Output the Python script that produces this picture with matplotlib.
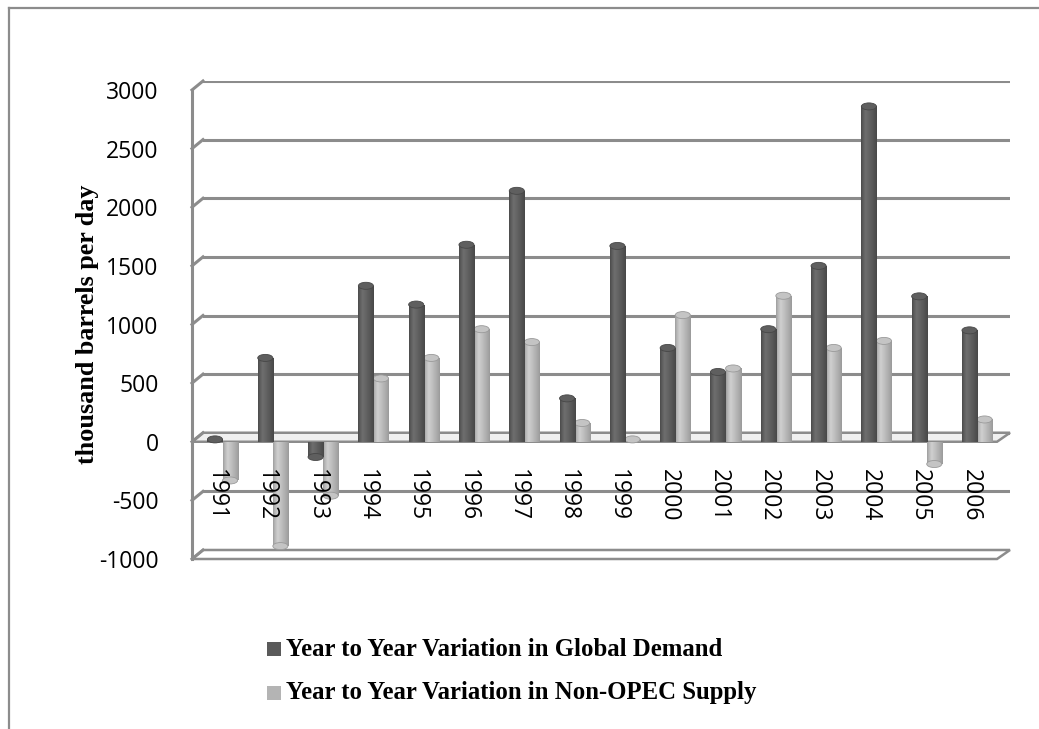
import matplotlib
matplotlib.use("Agg")
import matplotlib.pyplot as plt
import numpy as np
from matplotlib.lines import Line2D
from matplotlib.patches import Polygon, Ellipse, Rectangle
from matplotlib.transforms import offset_copy

years = ["1991", "1992", "1993", "1994", "1995", "1996", "1997", "1998",
         "1999", "2000", "2001", "2002", "2003", "2004", "2005", "2006"]
demand = [20, 715, -130, 1330, 1170, 1680, 2140, 370,
          1670, 800, 595, 960, 1500, 2860, 1240, 950]
supply = [-330, -890, -460, 540, 715, 960, 850, 160,
          20, 1080, 625, 1245, 800, 860, -190, 190]
series_names = ["Year to Year Variation in Global Demand",
                "Year to Year Variation in Non-OPEC Supply"]
yticks = [-1000, -500, 0, 500, 1000, 1500, 2000, 2500, 3000]

W, H = 1039, 729
fig = plt.figure(figsize=(W / 100, H / 100), dpi=100)
fig.patch.set_facecolor("white")

def rect(x0, y0, x1, y1):
    return [x0 / W, 1 - y1 / H, (x1 - x0) / W, (y1 - y0) / H]

GRID = "#8c8c8c"
ymin, ymax = -1000, 3000
n = len(years)
xmin, xmax = -0.457, n - 0.453

# back wall axes (gridlines, walls, floor)
axb = fig.add_axes(rect(203, 81, 1010, 550))
axb.set_zorder(0)
axb.set_xlim(xmin, xmax)
axb.set_ylim(ymin, ymax)
axb.axis("off")
for v in yticks:
    axb.axhline(v, color=GRID, lw=2.2, zorder=1)

# front axes (bars)
ax = fig.add_axes(rect(192, 90, 997, 559))
ax.set_zorder(1)
ax.set_xlim(xmin, xmax)
ax.set_ylim(ymin, ymax)
ax.patch.set_alpha(0)
for s in ax.spines.values():
    s.set_visible(False)
ax.set_xticks([])
ax.set_yticks(yticks)
ax.set_yticklabels([str(v) for v in yticks], fontsize=16.5, family="Open Sans")
ax.tick_params(axis="y", length=0, pad=24)

fig_inv = fig.transFigure.inverted()
def fpt(a, x, y):
    return fig_inv.transform(a.transData.transform((x, y)))

# left wall: vertical line and diagonals
p0 = fpt(ax, xmin, ymin); p1 = fpt(ax, xmin, ymax)
axb.add_line(Line2D([p0[0], p1[0]], [p0[1], p1[1]], color=GRID, lw=2.2,
                    transform=fig.transFigure, clip_on=False, zorder=2))
for v in yticks:
    a = fpt(ax, xmin, v); b = fpt(axb, xmin, v)
    axb.add_line(Line2D([a[0], b[0]], [a[1], b[1]], color=GRID, lw=2.2,
                        transform=fig.transFigure, clip_on=False, zorder=2))

# floor planes at 0 and -1000
for v, fc in [(0, "#f0f0f0"), (ymin, "white")]:
    pts = [fpt(ax, xmin, v), fpt(ax, xmax, v), fpt(axb, xmax, v), fpt(axb, xmin, v)]
    axb.add_patch(Polygon(pts, closed=True, facecolor=fc, edgecolor=GRID,
                          lw=1.8, zorder=1.5, transform=fig.transFigure,
                          clip_on=False))

# bars
x = np.arange(n)
bw = 0.3
bars_s = ax.bar(x + 0.3, supply, width=bw, color="#b4b4b4", zorder=3, lw=0)
bars_d = ax.bar(x, demand, width=bw, color="#5a5a5a", zorder=4, lw=0)

cap_h = 60  # ellipse height in data units (~7 px)

def shade(bars, lo, hi, cap, z):
    grad = np.concatenate([np.linspace(0, 1, 30) ** 0.7, np.linspace(1, 0, 70) ** 0.9])
    cols = np.array([matplotlib.colors.to_rgb(lo), matplotlib.colors.to_rgb(hi)])
    img = (cols[0] + (cols[1] - cols[0]) * grad[:, None])[None, :, :]
    for b in bars:
        x0, y0 = b.get_x(), b.get_y()
        w, h = b.get_width(), b.get_height()
        if h == 0:
            continue
        im = ax.imshow(img, extent=[x0, x0 + w, min(y0, y0 + h), max(y0, y0 + h)],
                       aspect="auto", zorder=z, interpolation="bilinear")
        im.set_clip_path(b)
        ax.add_patch(Ellipse((x0 + w / 2, y0 + h), w, cap_h, facecolor=cap,
                             edgecolor=lo, lw=0.6, zorder=z + 0.05))

shade(bars_s, "#9a9a9a", "#cfcfcf", "#c4c4c4", 3.1)
shade(bars_d, "#474747", "#6e6e6e", "#5f5f5f", 4.1)
ax.set_xlim(xmin, xmax)
ax.set_ylim(ymin, ymax)

# category labels
tr = offset_copy(ax.transData, fig=fig, x=0, y=-27, units="dots")
for i, yr in enumerate(years):
    ax.text(i + 0.02, 0, yr, rotation=-90, ha="center", va="top",
            fontsize=16.5, family="Open Sans", transform=tr, zorder=6)

# y label
fig.text(88 / W, 1 - 324 / H, "thousand barrels per day", rotation=90,
         ha="center", va="center", fontsize=18.8, fontweight="bold",
         family="Liberation Serif")

# legend
cols = ["#5a5a5a", "#b4b4b4"]
for k, (name, c) in enumerate(zip(series_names, cols)):
    yc = 649 + 44 * k
    fig.add_artist(Rectangle((267 / W, 1 - (yc + 7) / H), 14 / W, 14 / H,
                             facecolor=c, edgecolor="none",
                             transform=fig.transFigure))
    fig.text(286 / W, 1 - yc / H, name, ha="left", va="center", fontsize=17.8,
             fontweight="bold", family="Liberation Serif")

# outer frame (top and left)
fig.add_artist(Line2D([9 / W, 1], [1 - 8 / H, 1 - 8 / H], color=GRID, lw=1.6))
fig.add_artist(Line2D([9 / W, 9 / W], [0, 1 - 8 / H], color=GRID, lw=1.6))

fig.savefig("out.png", dpi=100)
